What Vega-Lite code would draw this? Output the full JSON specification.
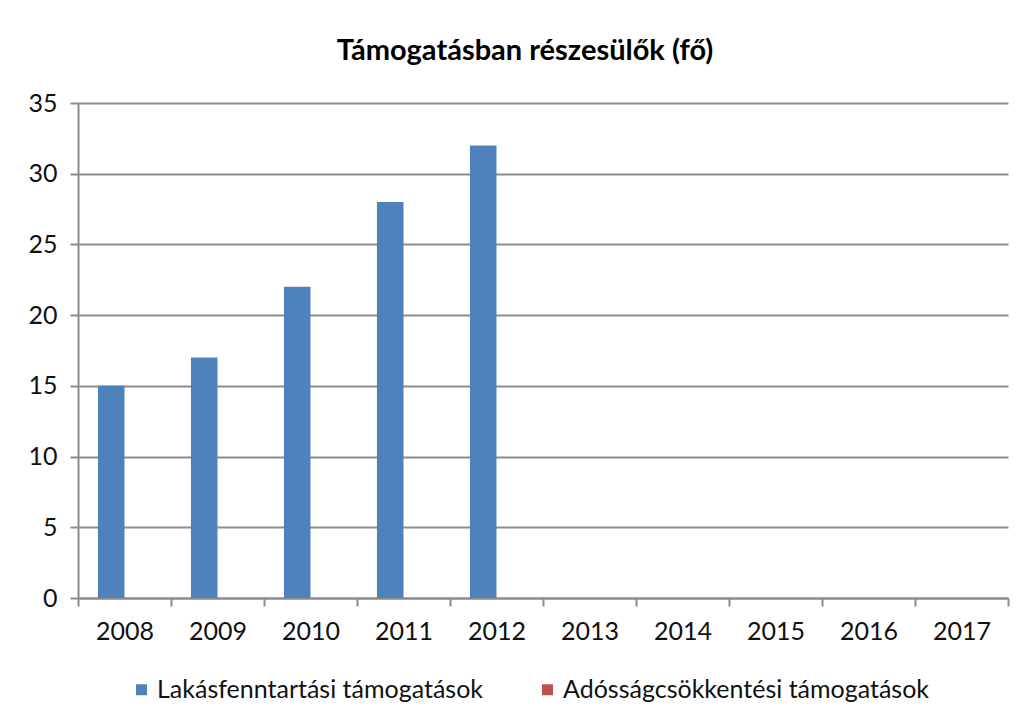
{
  "$schema": "https://vega.github.io/schema/vega-lite/v6.json",
  "autosize": {"type": "none"},
  "width": 930,
  "height": 495,
  "padding": {"left": 78, "top": 103, "right": 16, "bottom": 124},
  "background": "white",
  "title": {
    "text": "Támogatásban részesülők (fő)",
    "font": "Lato",
    "fontSize": 29,
    "fontWeight": "bold",
    "color": "#000000",
    "anchor": "middle",
    "dx": -18,
    "offset": 25
  },
  "config": {
    "view": {"stroke": null},
    "font": "Lato"
  },
  "data": {
    "values": [
      {"ev": "2008", "sorozat": "Lakásfenntartási támogatások", "fo": 15},
      {"ev": "2009", "sorozat": "Lakásfenntartási támogatások", "fo": 17},
      {"ev": "2010", "sorozat": "Lakásfenntartási támogatások", "fo": 22},
      {"ev": "2011", "sorozat": "Lakásfenntartási támogatások", "fo": 28},
      {"ev": "2012", "sorozat": "Lakásfenntartási támogatások", "fo": 32},
      {"ev": "2013", "sorozat": "Lakásfenntartási támogatások", "fo": 0},
      {"ev": "2014", "sorozat": "Lakásfenntartási támogatások", "fo": 0},
      {"ev": "2015", "sorozat": "Lakásfenntartási támogatások", "fo": 0},
      {"ev": "2016", "sorozat": "Lakásfenntartási támogatások", "fo": 0},
      {"ev": "2017", "sorozat": "Lakásfenntartási támogatások", "fo": 0},
      {"ev": "2008", "sorozat": "Adósságcsökkentési támogatások", "fo": 0},
      {"ev": "2009", "sorozat": "Adósságcsökkentési támogatások", "fo": 0},
      {"ev": "2010", "sorozat": "Adósságcsökkentési támogatások", "fo": 0},
      {"ev": "2011", "sorozat": "Adósságcsökkentési támogatások", "fo": 0},
      {"ev": "2012", "sorozat": "Adósságcsökkentési támogatások", "fo": 0},
      {"ev": "2013", "sorozat": "Adósságcsökkentési támogatások", "fo": 0},
      {"ev": "2014", "sorozat": "Adósságcsökkentési támogatások", "fo": 0},
      {"ev": "2015", "sorozat": "Adósságcsökkentési támogatások", "fo": 0},
      {"ev": "2016", "sorozat": "Adósságcsökkentési támogatások", "fo": 0},
      {"ev": "2017", "sorozat": "Adósságcsökkentési támogatások", "fo": 0}
    ]
  },
  "mark": {"type": "bar"},
  "encoding": {
    "x": {
      "field": "ev",
      "type": "nominal",
      "scale": {"paddingInner": 0, "paddingOuter": 0},
      "axis": {
        "title": null,
        "labelAngle": 0,
        "labelFont": "Lato",
        "labelFontSize": 25,
        "labelColor": "#111111",
        "labelPadding": 13,
        "tickBand": "extent",
        "tickSize": 8,
        "tickColor": "#8c8c8c",
        "tickWidth": 2,
        "domainColor": "#8c8c8c",
        "domainWidth": 2,
        "grid": false
      }
    },
    "xOffset": {
      "field": "sorozat",
      "type": "nominal",
      "sort": ["Lakásfenntartási támogatások", "Adósságcsökkentési támogatások"],
      "scale": {"paddingInner": 0, "paddingOuter": 0.75}
    },
    "y": {
      "field": "fo",
      "type": "quantitative",
      "scale": {"domain": [0, 35], "nice": false},
      "axis": {
        "title": null,
        "values": [0, 5, 10, 15, 20, 25, 30, 35],
        "labelFont": "Lato",
        "labelFontSize": 25,
        "labelColor": "#111111",
        "labelPadding": 13,
        "tickSize": 8,
        "tickColor": "#8c8c8c",
        "tickWidth": 2,
        "domainColor": "#8c8c8c",
        "domainWidth": 2,
        "grid": true,
        "gridColor": "#8c8c8c",
        "gridWidth": 2
      }
    },
    "color": {
      "field": "sorozat",
      "type": "nominal",
      "sort": ["Lakásfenntartási támogatások", "Adósságcsökkentési támogatások"],
      "scale": {
        "domain": ["Lakásfenntartási támogatások", "Adósságcsökkentési támogatások"],
        "range": ["#4f81bd", "#c0504d"]
      },
      "legend": {
        "title": null,
        "orient": "none",
        "legendX": 51,
        "legendY": 574,
        "direction": "horizontal",
        "symbolType": "square",
        "symbolSize": 120,
        "symbolStrokeWidth": 0,
        "labelFont": "Lato",
        "labelFontSize": 25,
        "labelColor": "#111111",
        "labelLimit": 600,
        "labelOffset": 3,
        "columnPadding": 51
      }
    }
  }
}
